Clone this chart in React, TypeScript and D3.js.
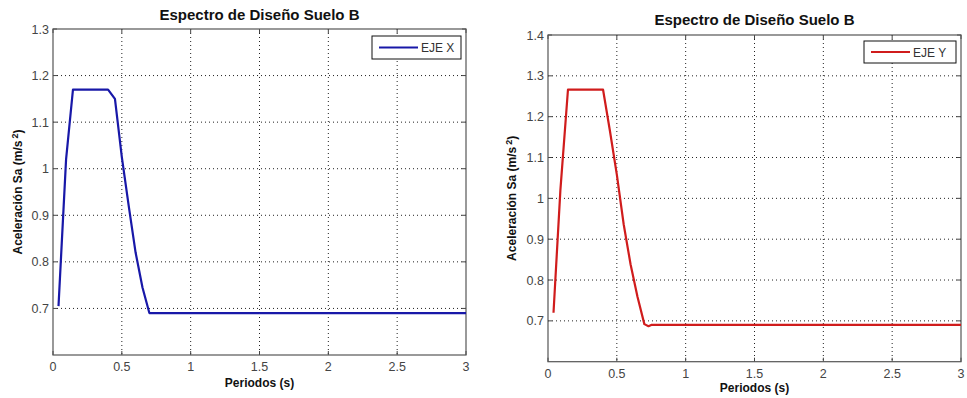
import React, { useEffect, useRef } from 'react';
import * as d3 from 'd3';

// Periodo (s) vs aceleración Sa (m/s²)
const periodosX = [0.04, 0.095, 0.145, 0.4, 0.45, 0.5, 0.55, 0.6, 0.65, 0.7, 3.0];
const saX = [0.705, 1.02, 1.17, 1.17, 1.15, 1.025, 0.92, 0.82, 0.745, 0.69, 0.69];

const periodosY = [0.04, 0.09, 0.145, 0.4, 0.45, 0.5, 0.55, 0.6, 0.65, 0.7, 0.73, 0.75, 3.0];
const saY = [0.72, 1.02, 1.266, 1.266, 1.165, 1.058, 0.936, 0.838, 0.759, 0.692, 0.687, 0.69, 0.69];

const xTicks = [0, 0.5, 1, 1.5, 2, 2.5, 3];
const yTicksX = [0.7, 0.8, 0.9, 1, 1.1, 1.2, 1.3];
const yTicksY = [0.7, 0.8, 0.9, 1, 1.1, 1.2, 1.3, 1.4];

const TITLE = 'Espectro de Diseño Suelo B';

interface PanelCfg {
  left: number;
  right: number;
  top: number;
  bottom: number;
  yMax: number;
  yTicks: number[];
  xs: number[];
  ys: number[];
  color: string;
  name: string;
  titleY: number;
  yLabelX: number;
  xLabelY: number;
  legend: { x: number; y: number; w: number; h: number };
}

const panels: PanelCfg[] = [
  {
    left: 53, right: 466, top: 29, bottom: 355, yMax: 1.3, yTicks: yTicksX,
    xs: periodosX, ys: saX, color: '#1818a8', name: 'EJE X',
    titleY: 20, yLabelX: 22, xLabelY: 387,
    legend: { x: 372, y: 36, w: 89, h: 23 },
  },
  {
    left: 548, right: 961, top: 35, bottom: 361.7, yMax: 1.4, yTicks: yTicksY,
    xs: periodosY, ys: saY, color: '#d01c1c', name: 'EJE Y',
    titleY: 25, yLabelX: 516, xLabelY: 392,
    legend: { x: 864, y: 41, w: 92, h: 22 },
  },
];

const FONT = 'Arial, "Liberation Sans", Helvetica, sans-serif';

const App: React.FC = () => {
  const svgRef = useRef<SVGSVGElement>(null);

  useEffect(() => {
    if (!svgRef.current) return;
    const svg = d3.select(svgRef.current);
    svg.selectAll('*').remove();

    svg.append('rect').attr('width', 967).attr('height', 398).attr('fill', '#fff');

    panels.forEach((p) => {
      const x = d3.scaleLinear().domain([0, 3]).range([p.left, p.right]);
      const y = d3.scaleLinear().domain([0.6, p.yMax]).range([p.bottom, p.top]);
      const g = svg.append('g');

      // grid
      xTicks.slice(1, -1).forEach((t) => {
        g.append('line')
          .attr('x1', x(t)).attr('x2', x(t))
          .attr('y1', p.top).attr('y2', p.bottom)
          .attr('stroke', '#222').attr('stroke-width', 1)
          .attr('stroke-dasharray', '1,3');
      });
      p.yTicks.filter((t) => t < p.yMax - 1e-9).forEach((t) => {
        g.append('line')
          .attr('x1', p.left).attr('x2', p.right)
          .attr('y1', y(t)).attr('y2', y(t))
          .attr('stroke', '#222').attr('stroke-width', 1)
          .attr('stroke-dasharray', '1,3');
      });

      // inward ticks on all sides
      xTicks.forEach((t) => {
        g.append('line').attr('x1', x(t)).attr('x2', x(t))
          .attr('y1', p.bottom).attr('y2', p.bottom - 4).attr('stroke', '#444');
        g.append('line').attr('x1', x(t)).attr('x2', x(t))
          .attr('y1', p.top).attr('y2', p.top + 4).attr('stroke', '#444');
      });
      p.yTicks.forEach((t) => {
        g.append('line').attr('x1', p.left).attr('x2', p.left + 4)
          .attr('y1', y(t)).attr('y2', y(t)).attr('stroke', '#444');
        g.append('line').attr('x1', p.right).attr('x2', p.right - 4)
          .attr('y1', y(t)).attr('y2', y(t)).attr('stroke', '#444');
      });

      // frame
      g.append('rect')
        .attr('x', p.left).attr('y', p.top)
        .attr('width', p.right - p.left).attr('height', p.bottom - p.top)
        .attr('fill', 'none').attr('stroke', '#555').attr('stroke-width', 1.2);

      // tick labels
      xTicks.forEach((t) => {
        g.append('text')
          .attr('x', x(t)).attr('y', p.bottom + 16)
          .attr('text-anchor', 'middle')
          .style('font-family', FONT).style('font-size', '12.5px').style('fill', '#444')
          .text(d3.format('~g')(t));
      });
      p.yTicks.forEach((t) => {
        g.append('text')
          .attr('x', p.left - 4).attr('y', y(t) + 4.5)
          .attr('text-anchor', 'end')
          .style('font-family', FONT).style('font-size', '12.5px').style('fill', '#444')
          .text(d3.format('~g')(t));
      });

      // data line
      const pts = p.xs.map((v, i) => [v, p.ys[i]] as [number, number]);
      const line = d3.line<[number, number]>().x((d) => x(d[0])).y((d) => y(d[1]));
      g.append('path')
        .datum(pts)
        .attr('d', line)
        .attr('fill', 'none')
        .attr('stroke', p.color)
        .attr('stroke-width', 2.2)
        .attr('stroke-linejoin', 'round');

      // legend
      const L = p.legend;
      g.append('rect')
        .attr('x', L.x).attr('y', L.y).attr('width', L.w).attr('height', L.h)
        .attr('fill', '#fff').attr('stroke', '#111').attr('stroke-width', 1);
      g.append('line')
        .attr('x1', L.x + 7).attr('x2', L.x + 46)
        .attr('y1', L.y + L.h / 2).attr('y2', L.y + L.h / 2)
        .attr('stroke', p.color).attr('stroke-width', 2);
      g.append('text')
        .attr('x', L.x + 49).attr('y', L.y + L.h / 2 + 4.5)
        .style('font-family', FONT).style('font-size', '12px').style('fill', '#333')
        .text(p.name);

      // title
      g.append('text')
        .attr('x', (p.left + p.right) / 2).attr('y', p.titleY)
        .attr('text-anchor', 'middle')
        .style('font-family', FONT).style('font-size', '15px').style('font-weight', 'bold')
        .style('fill', '#111')
        .text(TITLE);

      // x label
      g.append('text')
        .attr('x', (p.left + p.right) / 2).attr('y', p.xLabelY)
        .attr('text-anchor', 'middle')
        .style('font-family', FONT).style('font-size', '12px').style('font-weight', 'bold')
        .style('fill', '#111')
        .text('Periodos (s)');

      // y label
      const yl = g.append('text')
        .attr('transform', `translate(${p.yLabelX},${(p.top + p.bottom) / 2}) rotate(-90)`)
        .attr('text-anchor', 'middle')
        .style('font-family', FONT).style('font-size', '12px').style('font-weight', 'bold')
        .style('fill', '#111');
      yl.append('tspan').text('Aceleración Sa (m/s');
      yl.append('tspan').attr('dx', 2).attr('dy', -4).style('font-size', '9px').text('2');
      yl.append('tspan').attr('dy', 4).text(')');
    });
  }, []);

  return (
    <div style={{ position: 'absolute', left: 0, top: 0 }}>
      <svg ref={svgRef} width={967} height={398} style={{ display: 'block' }} />
    </div>
  );
};

export default App;
